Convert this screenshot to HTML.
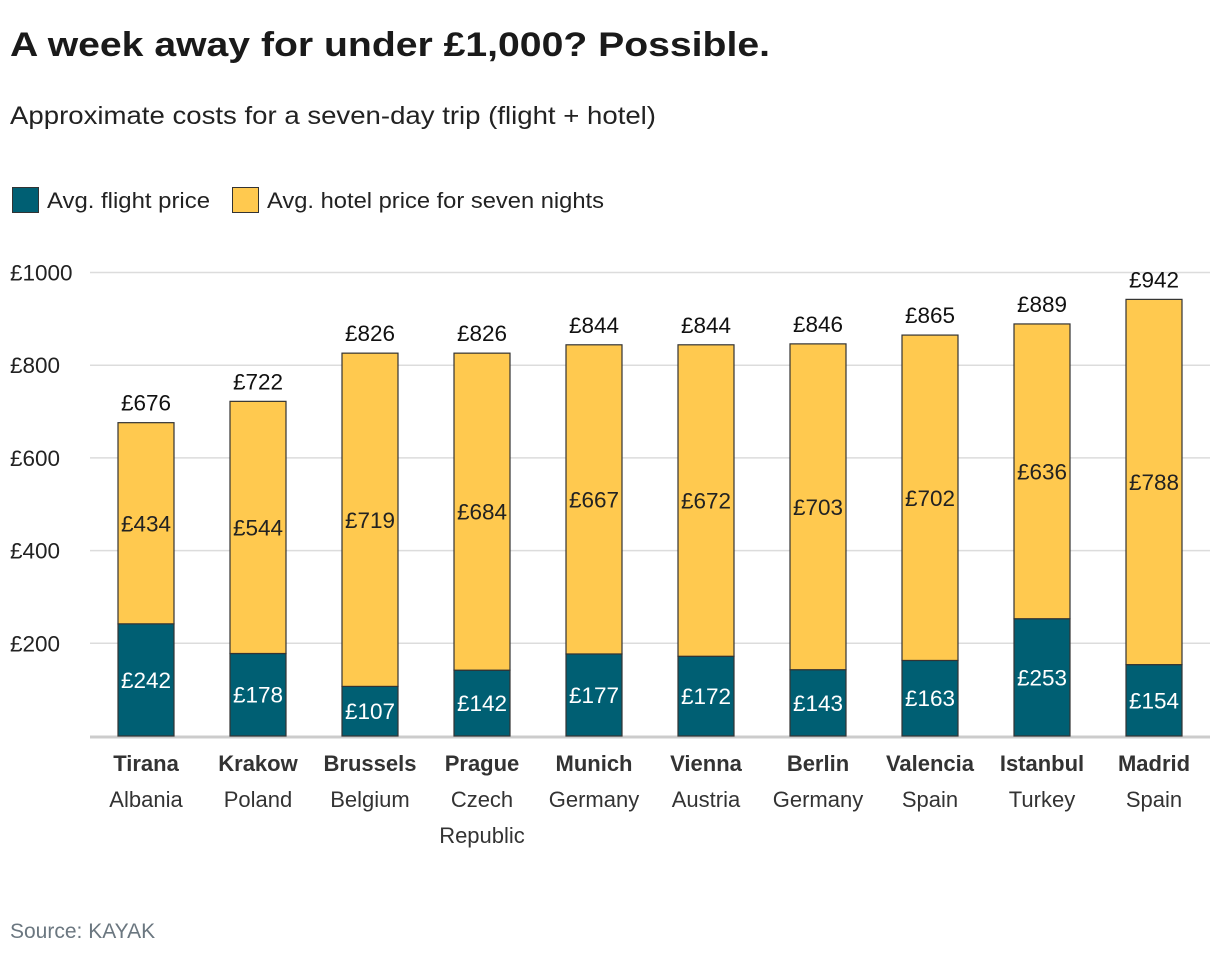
<!DOCTYPE html>
<html><head><meta charset="utf-8">
<style>
body{margin:0;background:#fff;font-family:"Liberation Sans",sans-serif;}
svg text{font-family:"Liberation Sans",sans-serif;}
</style></head>
<body>
<svg width="1220" height="960" xmlns="http://www.w3.org/2000/svg">
<text x="10" y="56" font-size="34" font-weight="bold" fill="#1a1a1a" textLength="760" lengthAdjust="spacingAndGlyphs">A week away for under £1,000? Possible.</text>
<text x="10" y="124" font-size="25" fill="#222" textLength="646" lengthAdjust="spacingAndGlyphs">Approximate costs for a seven-day trip (flight + hotel)</text>
<g>
<rect x="12.5" y="187.5" width="26" height="25" fill="#005f73" stroke="#333"/>
<text x="47" y="208" font-size="22" fill="#222" textLength="163" lengthAdjust="spacingAndGlyphs">Avg. flight price</text>
<rect x="232.5" y="187.5" width="26" height="25" fill="#ffc94f" stroke="#333"/>
<text x="267" y="208" font-size="22" fill="#222" textLength="337" lengthAdjust="spacingAndGlyphs">Avg. hotel price for seven nights</text>
</g>
<g id="grid"></g>
<g id="bars"></g>
<g id="xlabels"></g>
<text x="10" y="938" font-size="21" fill="#6b7780">Source: KAYAK</text>
</svg>
<script>
const cities=["Tirana","Krakow","Brussels","Prague","Munich","Vienna","Berlin","Valencia","Istanbul","Madrid"];
const countries=[["Albania"],["Poland"],["Belgium"],["Czech","Republic"],["Germany"],["Austria"],["Germany"],["Spain"],["Turkey"],["Spain"]];
const flight=[242,178,107,142,177,172,143,163,253,154];
const hotel=[434,544,719,684,667,672,703,702,636,788];
const totals=[676,722,826,826,844,844,846,865,889,942];
const yTicks=[200,400,600,800,1000];
const NS="http://www.w3.org/2000/svg";
const x0=90,x1=1210,yBase=736,yTop=272.5,yMax=1000;
const y=v=>yBase-(v/yMax)*(yBase-yTop);
const band=(x1-x0)/cities.length;
const xc=i=>x0+band*(i+0.5);
const bw=56;
function mk(tag,attrs,parent,text){const e=document.createElementNS(NS,tag);for(const k in attrs)e.setAttribute(k,attrs[k]);if(text!==undefined)e.textContent=text;parent.appendChild(e);return e;}
const grid=document.getElementById('grid');
yTicks.forEach(t=>{
 const l=mk('line',{x1:x0,x2:x1,y1:y(t),y2:y(t),stroke:'#dcdcdc','stroke-width':1.5},grid);
 
 
 const tx=mk('text',{x:10,y:y(t)+8,'font-size':22.5,fill:'#222'},grid,'£'+t);
 
 
});
const ax=mk('line',{x1:x0,x2:x1,y1:yBase+1,y2:yBase+1,stroke:'#ccc','stroke-width':3},grid);


const bars=document.getElementById('bars');
const xl=document.getElementById('xlabels');
cities.forEach((c,i)=>{
 const cx=xc(i),f=flight[i],h=hotel[i],tot=totals[i];
 const g=mk('g',{},bars);
 
 
 const fr=mk('rect',{x:cx-bw/2,y:y(f),width:bw,height:yBase-y(f),fill:'#005f73',stroke:'#333','stroke-width':1.2},g);
 
 
 const hr=mk('rect',{x:cx-bw/2,y:y(tot),width:bw,height:y(f)-y(tot),fill:'#ffc94f',stroke:'#333','stroke-width':1.2},g);
 
 
 const ft=mk('text',{x:cx,y:(y(f)+yBase)/2+8,'font-size':22.5,fill:'#fff','text-anchor':'middle'},g,'£'+f);
 
 
 const ht=mk('text',{x:cx,y:(y(tot)+y(f))/2+8,'font-size':22.5,fill:'#222','text-anchor':'middle'},g,'£'+h);
 
 
 const tt=mk('text',{x:cx,y:y(tot)-12,'font-size':22.5,fill:'#111','text-anchor':'middle'},g,'£'+tot);
 
 
 const cl=mk('text',{x:cx,y:771,'font-size':22,'font-weight':'bold',fill:'#333','text-anchor':'middle'},xl,c);
 
 
 countries[i].forEach((n,j)=>{
  const t=mk('text',{x:cx,y:807+36*j,'font-size':22,fill:'#333','text-anchor':'middle'},xl,n);
  
  
 });
});
</script>
</body></html>
